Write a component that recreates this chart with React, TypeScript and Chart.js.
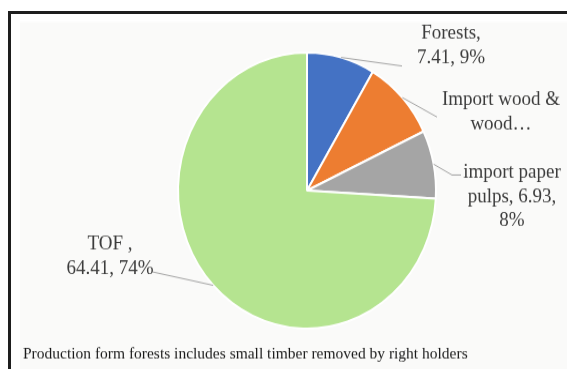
import React, { useEffect, useRef } from "react";
import { Chart, registerables } from "chart.js";
Chart.register(...registerables);

// ---- data ----
const categories = ["Forests", "Import wood & wood products", "import paper pulps", "TOF "];
const values = [7.41, 8.2, 6.93, 64.41];
const colors = ["#4472C4", "#ED7D31", "#A5A5A5", "#B5E490"];
const labelLines = [
  ["Forests,", "7.41, 9%"],
  ["Import wood &", "wood…"],
  ["import paper", "pulps, 6.93,", "8%"],
  ["TOF ,", "64.41, 74%"],
];
const caption = "Production form forests includes small timber removed by right holders";

// ---- layout (page coordinates) ----
const W = 556;
const H = 332;
const SY = 1.07;
const toI = (px: number, py: number) => ({ x: px - 11, y: (py - 14) / SY });
const LABEL_POS: number[][] = [[451, 33], [501, 100], [512, 172], [110, 244]];
const LINE_GAP = 24.5;
const LEADER_END: number[][][] = [
  [[402, 66]],
  [[437, 117]],
  [[452, 175], [461, 175]],
  [[153, 272]],
];
const CAPTION_POS = [23, 354];

const labelPlugin = {
  id: "labels",
  beforeDraw(chart: any) {
    const ctx = chart.ctx;
    ctx.save();
    ctx.fillStyle = "#fafaf9";
    ctx.fillRect(9, 8 / SY, W, H);
    ctx.restore();
  },
  afterDraw(chart: any) {
    const ctx = chart.ctx;
    const meta = chart.getDatasetMeta(0);
    ctx.save();
    meta.data.forEach((arc: any, i: number) => {
      const p = arc.getProps(["x", "y", "startAngle", "endAngle", "outerRadius"], true);
      const mid = (p.startAngle + p.endAngle) / 2;
      const sx = p.x + Math.cos(mid) * p.outerRadius;
      const sy = p.y + Math.sin(mid) * p.outerRadius;
      ctx.beginPath();
      ctx.strokeStyle = "#a6a6a6";
      ctx.lineWidth = 1;
      ctx.moveTo(sx, sy);
      LEADER_END[i].forEach((pt) => {
        const q = toI(pt[0], pt[1]);
        ctx.lineTo(q.x, q.y);
      });
      ctx.stroke();

      ctx.fillStyle = "#3c3c3c";
      ctx.font = "19px 'Liberation Serif'";
      ctx.textAlign = "center";
      ctx.textBaseline = "middle";
      labelLines[i].forEach((line, j) => {
        const q = toI(LABEL_POS[i][0], LABEL_POS[i][1] + j * LINE_GAP);
        ctx.fillText(line, q.x, q.y);
      });
    });
    ctx.fillStyle = "#1a1a1a";
    ctx.font = "15.5px 'Liberation Serif'";
    ctx.textAlign = "left";
    ctx.textBaseline = "middle";
    const c = toI(CAPTION_POS[0], CAPTION_POS[1]);
    ctx.fillText(caption, c.x, c.y);
    ctx.restore();
  },
};

export default function App() {
  const ref = useRef<HTMLCanvasElement | null>(null);
  useEffect(() => {
    if (!ref.current) return;
    const chart = new Chart(ref.current, {
      type: "pie",
      data: {
        labels: categories,
        datasets: [
          {
            data: values,
            backgroundColor: colors,
            borderColor: "#ffffff",
            borderWidth: 2,
          },
        ],
      },
      options: {
        responsive: false,
        animation: false,
        layout: { padding: { left: 166, right: 130, top: 35, bottom: 37 } },
        plugins: { legend: { display: false }, tooltip: { enabled: false } },
      },
      plugins: [labelPlugin],
    });
    return () => chart.destroy();
  }, []);

  return (
    <div
      style={{
        position: "fixed",
        left: 8,
        top: 11,
        width: 559,
        height: 358,
        boxSizing: "border-box",
        borderLeft: "3px solid #1e1e1e",
        borderTop: "3px solid #1e1e1e",
        background: "#ffffff",
        overflow: "hidden",
      }}
    >
      <div style={{ transform: `scaleY(${SY})`, transformOrigin: "0 0", width: W, height: H }}>
        <canvas ref={ref} width={W} height={H} style={{ display: "block" }} />
      </div>
    </div>
  );
}
